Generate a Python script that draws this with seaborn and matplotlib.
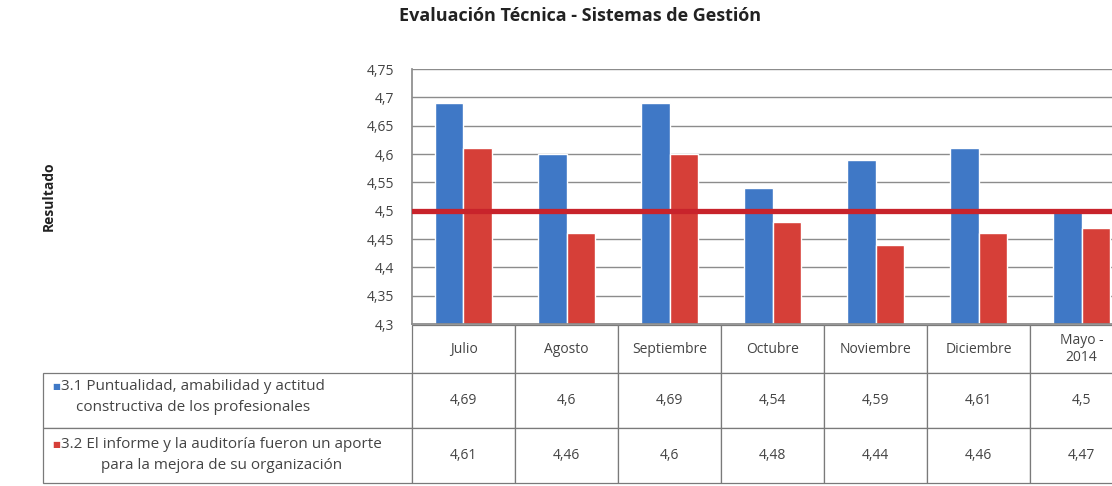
import matplotlib
matplotlib.use("Agg")
import matplotlib.pyplot as plt
import numpy as np
import pandas as pd
import seaborn as sns

# ---------------- data ----------------
title = "Evaluación Técnica - Sistemas de Gestión"
y_label = "Resultado"
categories = ["Julio", "Agosto", "Septiembre", "Octubre", "Noviembre", "Diciembre", "Mayo -\n2014"]
series_names = [
    "3.1 Puntualidad, amabilidad y actitud\nconstructiva de los profesionales",
    "3.2 El informe y la auditoría fueron un aporte\npara la mejora de su organización",
]
values_31 = [4.69, 4.6, 4.69, 4.54, 4.59, 4.61, 4.5]
values_32 = [4.61, 4.46, 4.6, 4.48, 4.44, 4.46, 4.47]
target_value = 4.5
y_ticks = [4.3, 4.35, 4.4, 4.45, 4.5, 4.55, 4.6, 4.65, 4.7, 4.75]

# ---------------- style ----------------
sns.set_theme(style="white")
FONT = ["Open Sans", "DejaVu Sans"]
plt.rcParams["font.family"] = FONT

BLUE = "#3f78c6"
RED = "#d63f38"
LINE_RED = "#c8232b"
GRID = "#8c8c8c"
TXT = "#444444"

W, H = 1112, 486
fig = plt.figure(figsize=(W / 100, H / 100), dpi=100)


def rect(x0, y0, x1, y1):
    return [x0 / W, 1 - y1 / H, (x1 - x0) / W, (y1 - y0) / H]


AX_L, AX_T, AX_R, AX_B = 412, 69, 1133, 324
ax = fig.add_axes(rect(AX_L, AX_T, AX_R, AX_B))

df = pd.DataFrame({
    "Mes": categories * 2,
    "Valor": values_31 + values_32,
    "Serie": [series_names[0]] * len(categories) + [series_names[1]] * len(categories),
})

sns.barplot(data=df, x="Mes", y="Valor", hue="Serie", palette=[BLUE, RED],
            width=0.55, gap=0, saturation=1, legend=False, ax=ax, zorder=2)

ax.axhline(target_value, color=LINE_RED, lw=3.8, zorder=3)

ax.set_ylim(y_ticks[0], y_ticks[-1])
ax.set_xlim(-0.5, len(categories) - 0.5)
ax.set_yticks(y_ticks)
ax.set_yticklabels([f"{v:g}".replace(".", ",") for v in y_ticks], fontsize=10, color=TXT)
ax.tick_params(axis="y", length=0, pad=13)
ax.set_xticks([])
ax.set_xlabel("")
ax.set_ylabel("")
ax.grid(axis="y", color=GRID, lw=1)
ax.set_axisbelow(True)
for s in ["top", "right"]:
    ax.spines[s].set_visible(False)
ax.spines["left"].set_color(GRID)
ax.spines["bottom"].set_color(GRID)

# ---------------- data table ----------------
fmt = lambda v: f"{v:g}".replace(".", ",")
cell_text = [[fmt(v) for v in values_31], [fmt(v) for v in values_32]]
ax_w = AX_R - AX_L
ax_h = AX_B - AX_T
TBL_L, TBL_T, TBL_B = 43, 325, 483
label_w = (AX_L - TBL_L) / ax_w
tbl = ax.table(cellText=cell_text, colLabels=categories, cellLoc="center", colLoc="center",
               colWidths=[1 / len(categories)] * len(categories),
               bbox=[0, (AX_B - TBL_B) / ax_h, 1, (TBL_B - TBL_T) / ax_h])
for r in (1, 2):
    tbl.add_cell(r, -1, width=label_w, height=1, text="")
for (r, c), cell in tbl.get_celld().items():
    cell.set_height(48 if r == 0 else 55)
    cell.set_edgecolor("#7a7a7a")
    cell.set_linewidth(0.9)
    cell.get_text().set_color(TXT)
tbl.auto_set_font_size(False)
tbl.set_fontsize(10)

# row labels with legend keys
row_centers = [397, 455]
for name, yc, col in zip(series_names, row_centers, [BLUE, RED]):
    fig.text(61 / W, 1 - yc / H, name, ha="left", va="center", multialignment="center",
             fontsize=11, color=TXT, linespacing=1.55)
    fig.text(56 / W, 1 - (yc - 10.5) / H, "■", ha="center", va="center",
             fontsize=6, color=col, family=["DejaVu Sans"])

# ---------------- titles ----------------
fig.text(580 / W, 1 - 16 / H, title, ha="center", va="center", fontsize=13,
         fontweight="bold", color="#222222")
fig.text(49 / W, 1 - 196 / H, y_label, ha="center", va="center", rotation=90,
         fontsize=10, fontweight="bold", color="#222222")

fig.savefig("out.png", dpi=100)
